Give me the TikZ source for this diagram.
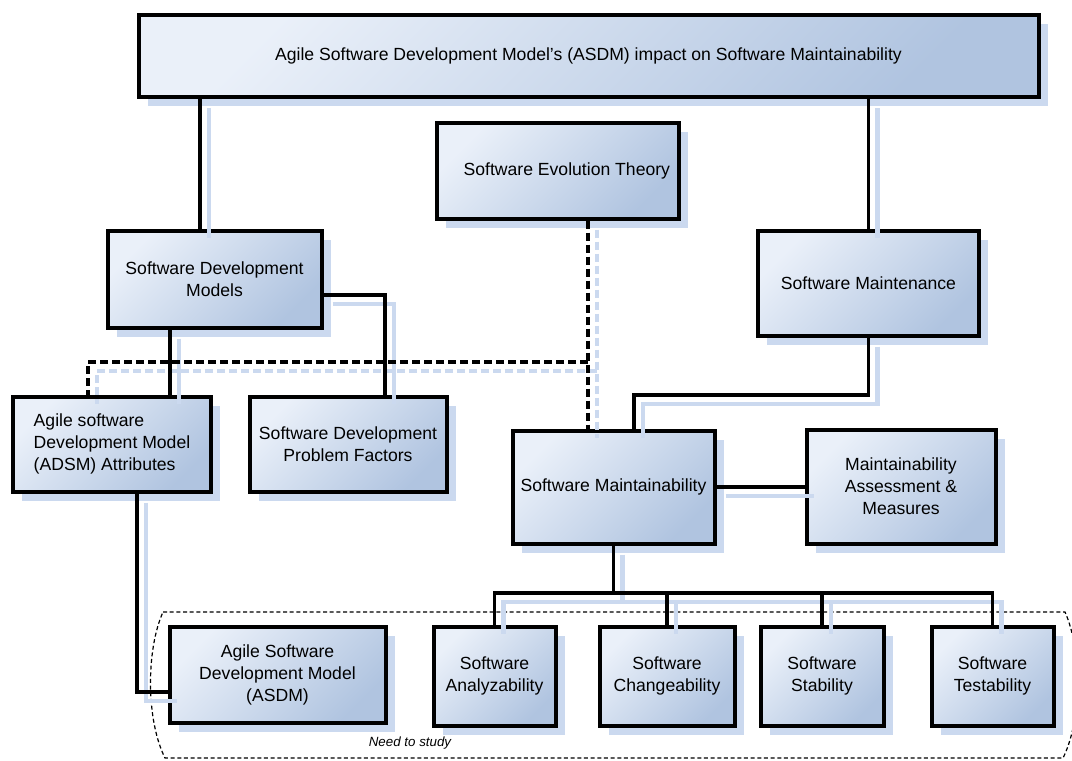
\documentclass[tikz,border=0pt]{standalone}
\usepackage{fontspec}
\setmainfont{Liberation Sans}
\usetikzlibrary{shadows}

\definecolor{boxlight}{RGB}{234,240,249}
\definecolor{boxdark}{RGB}{176,196,224}
\definecolor{shadowblue}{RGB}{203,217,239}

\tikzset{
  box/.style={draw, line width=3pt, top color=boxlight, bottom color=boxdark, shading angle=45,
    align=center, inner sep=2pt, font=\fontsize{13.2}{16.5}\selectfont,
    drop shadow={shadow xshift=6.75pt, shadow yshift=-6.75pt, fill=shadowblue, draw=none, opacity=1}},
  wire/.style={line width=2.7pt},
  wireshadow/.style={line width=3.4pt, draw=shadowblue, transform canvas={shift={(6.75pt,-6.75pt)}}},
  dwire/.style={line width=3pt, dash pattern=on 6pt off 3pt},
  dwireshadow/.style={dwire, draw=shadowblue, transform canvas={shift={(6.75pt,-6.75pt)}}},
  region/.style={line width=0.9pt, dash pattern=on 3pt off 2pt},
  note/.style={font=\fontsize{10}{12}\selectfont\itshape, inner sep=1pt}
}

\begin{document}
\begin{tikzpicture}[x=0.75pt,y=0.75pt,yscale=-1,xscale=1]
\useasboundingbox (0,0) rectangle (1072,761);

%Shape: Region [need to study]
\draw[region] (163,612) -- (1065,612) .. controls (1082,650) and (1082,720) .. (1063,758) -- (165,758) .. controls (146,720) and (146,650) .. (163,612) -- cycle;
\node[note] (study) at (410,743) {Need to study};

%Shape: Rectangle [top]
\node[box, minimum width=675pt, minimum height=61pt] (title) at (588.5,56) {Agile Software Development Model’s (ASDM) impact on Software Maintainability};

%Shape: Rectangle [second row]
\node[box, minimum width=181.5pt, minimum height=72pt] (evo) at (557.5,170.5) {\hspace*{14pt}Software Evolution Theory};
\node[box, minimum width=160.5pt, minimum height=72.75pt] (sdm) at (214.5,279) {Software Development\\Models};
\node[box, minimum width=166pt, minimum height=78.75pt] (maint) at (868.5,283) {Software Maintenance};

%Shape: Rectangle [third row]
\node[box, align=left, minimum width=148.5pt, minimum height=71.25pt] (attr) at (112,444) {Agile software\\Development Model\\(ADSM) Attributes};
\node[box, minimum width=147.75pt, minimum height=71.25pt] (prob) at (348,444) {Software Development\\Problem Factors};
\node[box, minimum width=151.5pt, minimum height=84.75pt] (smaint) at (613.5,487) {Software Maintainability};
\node[box, minimum width=141.75pt, minimum height=85.5pt] (assess) at (901,486.5) {Maintainability\\Assessment \&\\Measures};

%Shape: Rectangle [bottom row]
\node[box, minimum width=162pt, minimum height=72pt] (asdm) at (277.5,674.5) {Agile Software\\Development Model\\(ASDM)};
\node[box, minimum width=91.5pt, minimum height=74.25pt] (analyz) at (494.5,676) {Software\\Analyzability};
\node[box, minimum width=101.25pt, minimum height=74.25pt] (change) at (667,676) {Software\\Changeability};
\node[box, minimum width=92.25pt, minimum height=74.25pt] (stab) at (822,676) {Software\\Stability};
\node[box, minimum width=91.5pt, minimum height=74.25pt] (test) at (992.5,676) {Software\\Testability};

%Bend points
\coordinate (xa) at (200,0);
\coordinate (xc) at (170,0);
\coordinate (xe) at (88,0);
\coordinate (k1) at (385,295);
\coordinate (k2) at (588,362);
\coordinate (k3) at (634,395);
\coordinate (k4) at (137,692);
\coordinate (bus) at (613,593);

%Straight Lines [shadow first, then black]
\foreach \w/\dw in {wireshadow/dwireshadow, wire/dwire}{
  \draw[\w] (sdm.north -| xa) -- (title.south -| xa);
  \draw[\w] (maint.north) -- (title.south -| maint.north);
  \draw[\w] (sdm.south -| xc) -- (attr.north -| xc);
  \draw[\w] (sdm.east |- k1) -| (prob.north -| k1);
  \draw[\w] (maint.south) |- (k3) -- (smaint.north -| k3);
  \draw[\w] (smaint.east) -- (assess.west |- smaint.east);
  \draw[\w] (smaint.south) -- (smaint.south |- bus);
  \draw[\w] (analyz.north) |- (bus) -| (test.north);
  \draw[\w] (change.north) -- (change.north |- bus);
  \draw[\w] (stab.north) -- (stab.north |- bus);
  \draw[\w] (attr.south -| k4) |- (asdm.west |- k4);
  \draw[\dw] (evo.south -| k2) -- (smaint.north -| k2);
  \draw[\dw] (k2) -| (attr.north -| xe);
}

\end{tikzpicture}
\end{document}
